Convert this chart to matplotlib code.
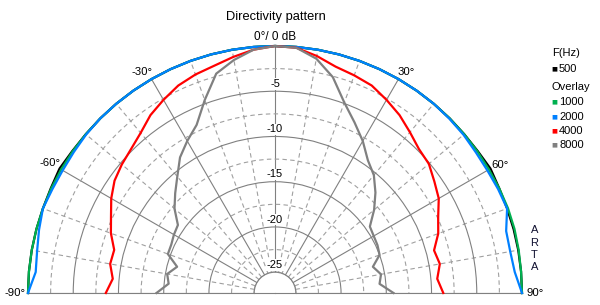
import numpy as np
import matplotlib
matplotlib.use('Agg')
import matplotlib.pyplot as plt

plt.rcParams['font.family'] = ['Liberation Sans', 'DejaVu Sans']

# angles in degrees, 0 = on axis
angles = [-90, -85, -80, -75, -70, -65, -60, -55, -50, -45, -40, -35, -30,
          -25, -20, -15, -10, -5, 0, 5, 10, 15, 20, 25, 30, 35, 40, 45, 50,
          55, 60, 65, 70, 75, 80, 85, 90]

# levels in dB, normalised to 0 deg
db_500 = [0.0, 0.0, 0.0, 0.0, 0.0, 0.05, 0.2, 0.05, 0.0, 0.0, 0.0, 0.0, 0.0,
          0.0, 0.0, 0.0, 0.0, 0.0, 0.0, 0.0, 0.0, 0.0, 0.0, 0.0, 0.0, 0.0,
          0.0, 0.0, 0.0, 0.05, 0.2, 0.05, 0.0, 0.0, 0.0, 0.0, 0.0]
db_1000 = [0.0, 0.0, 0.0, 0.0, 0.0, 0.0, 0.0, 0.0, 0.0, 0.0, 0.0, 0.0, 0.0,
           0.0, 0.0, 0.0, 0.0, 0.0, 0.0, 0.0, 0.0, 0.0, 0.0, 0.0, 0.0, 0.0,
           0.0, 0.0, 0.0, 0.0, 0.0, 0.05, 0.1, 0.1, 0.05, 0.0, 0.0]
db_2000 = [0.0, -0.75, -0.6, -0.3, 0.0, -0.15, -0.2, -0.15, -0.05, 0.0, 0.0,
           0.0, 0.0, 0.0, 0.0, 0.0, 0.0, 0.0, 0.0, 0.0, 0.0, 0.0, 0.0, 0.0,
           0.0, 0.0, 0.0, -0.05, -0.1, -0.2, -0.2, -0.1, 0.0, -0.85, -0.9,
           -0.7, 0.0]
db_4000 = [-8.6, -9.3, -8.8, -8.9, -8.0, -7.3, -6.4, -5.65, -5.2, -4.8, -4.2,
           -3.3, -2.65, -2.0, -1.6, -1.3, -0.8, -0.3, 0.0, -0.1, -0.7, -1.4,
           -1.7, -2.0, -2.65, -3.3, -4.1, -4.8, -5.1, -5.8, -6.4, -7.4, -8.1,
           -9.1, -8.8, -9.3, -8.7]
db_8000 = [-14.2, -15.5, -15.2, -16.1, -14.7, -14.65, -14.4, -14.2, -12.8,
           -11.7, -10.5, -9.0, -7.9, -6.8, -4.6, -2.2, -1.15, -0.3, 0.0, -0.1,
           -1.0, -2.6, -4.9, -6.5, -7.9, -9.4, -10.3, -11.6, -13.0, -14.5,
           -14.7, -14.8, -15.0, -16.1, -15.4, -15.7, -14.2]

freqs = ['500', '1000', '2000', '4000', '8000']
colors = ['#000000', '#00b050', '#0080ff', '#ff0000', '#808080']
series = [db_500, db_1000, db_2000, db_4000, db_8000]

grid_col = '#808080'
theta = np.deg2rad(angles)

fig = plt.figure(figsize=(6, 3.05), dpi=100)
# square box, the half disc is centred inside it
ax = fig.add_axes([28 / 600, (305 - 416.5) / 305, 494 / 600, 494 / 305], projection='polar')
ax.set_theta_zero_location('N')
ax.set_theta_direction(-1)
ax.set_thetamin(-90)
ax.set_thetamax(90)
ax.set_rlim(-25, 0)
ax.set_rorigin(-27.3)

# grid: solid every 30 deg / 5 dB, dashed in between
ax.set_xticks(np.deg2rad([-90, -60, -30, 0, 30, 60, 90]))
ax.set_xticks(np.deg2rad([-80, -70, -50, -40, -20, -10, 10, 20, 40, 50, 70, 80]), minor=True)
ax.set_yticks([-25, -20, -15, -10, -5, 0])
ax.set_yticks([-22.5, -17.5, -12.5, -7.5, -2.5], minor=True)
ax.set_xticklabels([])
ax.set_yticklabels([])
ax.tick_params(which='both', length=0)
ax.grid(True, which='major', color=grid_col, lw=0.8, ls='-')
ax.grid(True, which='minor', color='#a0a0a0', lw=0.8, ls=(0, (4, 3)))
for sp in ax.spines.values():
    sp.set_color(grid_col)
    sp.set_linewidth(0.8)

# baseline goes on under the inner hole
ax.plot(np.deg2rad([-90, -90]), [-25, -27.3], color=grid_col, lw=0.8, clip_on=False)
ax.plot(np.deg2rad([90, 90]), [-25, -27.3], color=grid_col, lw=0.8, clip_on=False)

for vals, c in zip(series, colors):
    ax.plot(theta, vals, color=c, lw=1.6, clip_on=False, zorder=3)

# angle labels
for ang, txt, r in [(-90, '-90°', 1.45), (-60, '-60°', 1.45), (-31, '-30°', 1.25),
                    (30.6, '30°', 1.1), (60.4, '60°', 1.35), (90, '90°', 1.45)]:
    ax.text(np.deg2rad(ang), r, txt, ha='center', va='center', fontsize=8.2)
ax.text(0, 1.0, '0°/ 0 dB', ha='center', va='center', fontsize=8.5)

# level labels along the axis
for v in [-5, -10, -15, -20, -25]:
    ax.text(0, v + 0.8, str(v), ha='center', va='center', fontsize=8, zorder=4,
            bbox=dict(fc='white', ec='none', pad=0.4))

fig.text(276 / 600, 1 - 17 / 305, 'Directivity pattern', ha='center', va='center', fontsize=9.3)

# legend on the right
fig.text(552 / 600, 1 - 53 / 305, 'F(Hz)', ha='left', va='center', fontsize=8)
fig.text(552 / 600, 1 - 87 / 305, 'Overlay', ha='left', va='center', fontsize=8)
rows_y = [69, 101.5, 116.5, 130.5, 145]
for f, c, y in zip(freqs, colors, rows_y):
    fig.text(551 / 600, 1 - y / 305, '■', color=c, ha='left', va='center', fontsize=4.5,
             family='DejaVu Sans')
    fig.text(559 / 600, 1 - y / 305, f, ha='left', va='center', fontsize=8)

for ch, y in zip('ARTA', [230, 242.5, 254.5, 267]):
    fig.text(534.5 / 600, 1 - y / 305, ch, ha='center', va='center', fontsize=8, color='#101030')

fig.savefig('out.png', dpi=100)
